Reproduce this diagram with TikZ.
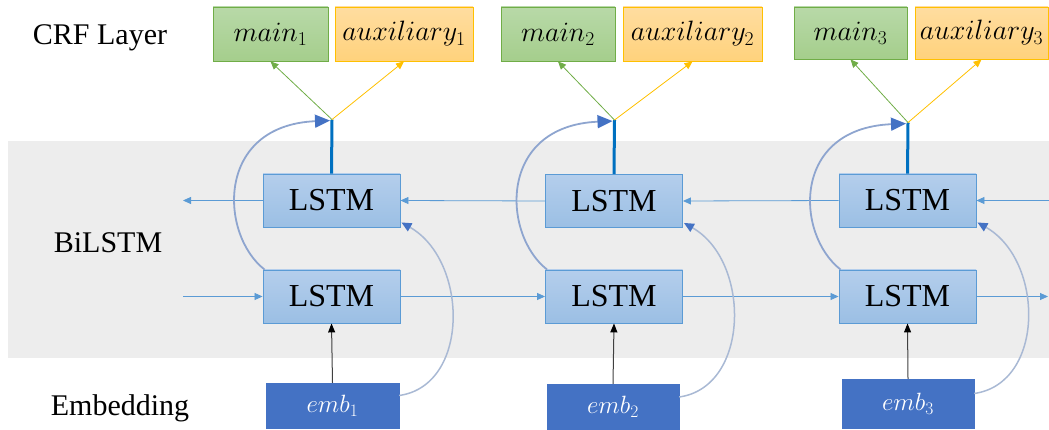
\RequirePackage{fix-cm}
\documentclass[tikz,border=0pt]{standalone}
\usepackage{fontspec}
\setmainfont{Liberation Serif}
\usetikzlibrary{arrows.meta,calc}

\definecolor{bandgray}{HTML}{EDEDED}
\definecolor{lstmedge}{HTML}{5B9BD5}
\definecolor{lstmtop}{HTML}{B4CEEC}
\definecolor{lstmbot}{HTML}{9BBFE4}
\definecolor{mainedge}{HTML}{70AD47}
\definecolor{maintop}{HTML}{B8D9A8}
\definecolor{mainbot}{HTML}{A5CE8C}
\definecolor{auxedge}{HTML}{FFC000}
\definecolor{auxtop}{HTML}{FFDDA0}
\definecolor{auxbot}{HTML}{FFD27C}
\definecolor{embfill}{HTML}{4472C4}
\definecolor{flowblue}{HTML}{5B9BD5}
\definecolor{outblue}{HTML}{0070C0}
\definecolor{loopblue}{HTML}{8EA5CF}
\definecolor{skipblue}{HTML}{A9B9D4}
\definecolor{tipblue}{HTML}{4472C4}
\definecolor{inputgray}{HTML}{404040}

\tikzset{
  lstm/.style={draw=lstmedge, line width=0.9pt, top color=lstmtop, bottom color=lstmbot,
    minimum width=137pt, minimum height=53pt, inner sep=0pt,
    font=\fontsize{32}{36}\selectfont},
  mainbox/.style={draw=mainedge, line width=0.9pt, top color=maintop, bottom color=mainbot,
    minimum height=54pt, inner sep=0pt, font=\fontsize{28}{32}\selectfont},
  auxbox/.style={draw=auxedge, line width=0.9pt, top color=auxtop, bottom color=auxbot,
    minimum height=54pt, inner sep=0pt, font=\fontsize{28}{32}\selectfont},
  embbox/.style={fill=embfill, draw=embfill, text=white, inner sep=0pt,
    font=\fontsize{25}{28}\selectfont},
  layerlabel/.style={font=\fontsize{30}{36}\selectfont, inner sep=0pt},
  flow/.style={draw=flowblue, line width=0.8pt, -{Triangle[length=8pt,width=7pt]}},
  outline/.style={draw=outblue, line width=3pt},
  tomain/.style={draw=mainedge, line width=0.8pt, -{Triangle[length=8pt,width=7pt]}},
  toaux/.style={draw=auxedge, line width=0.8pt, -{Triangle[length=8pt,width=7pt]}},
  feed/.style={draw=inputgray, line width=1pt, -{Triangle[length=9pt,width=7pt,color=black]}},
  loop/.style={draw=loopblue, line width=1.8pt, -{Triangle[length=15pt,width=13pt,color=tipblue]}},
  skip/.style={draw=skipblue, line width=1.5pt, -{Triangle[length=10pt,width=9pt,color=tipblue]}},
}

\begin{document}
\begin{tikzpicture}[x=1pt,y=-1pt]
  \useasboundingbox (0,0) rectangle (1049,430);

  % BiLSTM background band
  \fill[bandgray] (8,141) rectangle (1049,358);

  % layer names
  \node[layerlabel] (lcrf) at (100,38) {CRF Layer};
  \node[layerlabel] (lbi) at (108,243) {BiLSTM};
  \node[layerlabel] (lemb) at (120,408) {Embedding};

  % LSTM cells: upper row runs backward, lower row forward
  \node[lstm] (u1) at (331.5,200.5) {LSTM};
  \node[lstm] (l1) at (331.5,296.5) {LSTM};
  \node[lstm] (u2) at (614,201) {LSTM};
  \node[lstm] (l2) at (614,296.5) {LSTM};
  \node[lstm] (u3) at (907.5,200.5) {LSTM};
  \node[lstm] (l3) at (907.5,296.5) {LSTM};

  % embeddings
  \node[embbox, minimum width=133pt, minimum height=45pt] (e1) at (332.5,405.5) {$emb_1$};
  \node[embbox, minimum width=132pt, minimum height=46pt] (e2) at (613,407) {$emb_2$};
  \node[embbox, minimum width=132pt, minimum height=49pt] (e3) at (908,403.5) {$emb_3$};

  % CRF outputs
  \node[mainbox, minimum width=115pt] (m1) at (270.5,34) {$main_1$};
  \node[auxbox, minimum width=138pt] (a1) at (404,34) {$auxiliary_1$};
  \node[mainbox, minimum width=114pt] (m2) at (558,34) {$main_2$};
  \node[auxbox, minimum width=139pt] (a2) at (692.5,34) {$auxiliary_2$};
  \node[mainbox, minimum width=113pt, minimum height=52pt] (m3) at (850.5,33) {$main_3$};
  \node[auxbox, minimum width=133pt, minimum height=52pt] (a3) at (981.5,33) {$auxiliary_3$};

  % free ends of the recurrent chains
  \coordinate (bwend) at (183,200.5);
  \coordinate (bwstart) at (1049,200.5);
  \coordinate (fwstart) at (183,296.5);
  \coordinate (fwend) at (1048,296.5);

  % backward chain
  \draw[flow] (u1.west) -- (bwend);
  \draw[flow] (u2.west) -- (u1.east);
  \draw[flow] (u3.west) -- (u2.east);
  \draw[flow] (bwstart) -- (u3.east);

  % forward chain
  \draw[flow] (fwstart) -- (l1.west);
  \draw[flow] (l1.east) -- (l2.west);
  \draw[flow] (l2.east) -- (l3.west);
  \draw[flow] (l3.east) -- (fwend);

  % per-column connections
  \foreach \i/\dy in {1/54, 2/54, 3/51} {
    \coordinate (j\i) at ($(u\i.north)+(0.5,-\dy)$);
    \draw[feed] (e\i.north) -- (l\i.south);
    \draw[skip] ($(e\i.east)+(0,-10)$) .. controls +(71,-10) and +(67,38) .. ($(u\i.south east)+(1,-5)$);
    \draw[outline] (u\i.north) -- (j\i);
    \draw[tomain] (j\i) -- (m\i.south);
    \draw[toaux] (j\i) -- (a\i.south);
    \draw[loop] ($(l\i.north west)+(2,0)$) .. controls +(-45,-35) and +(-115,5) .. ($(j\i)+(-2,1)$);
  }
\end{tikzpicture}
\end{document}
